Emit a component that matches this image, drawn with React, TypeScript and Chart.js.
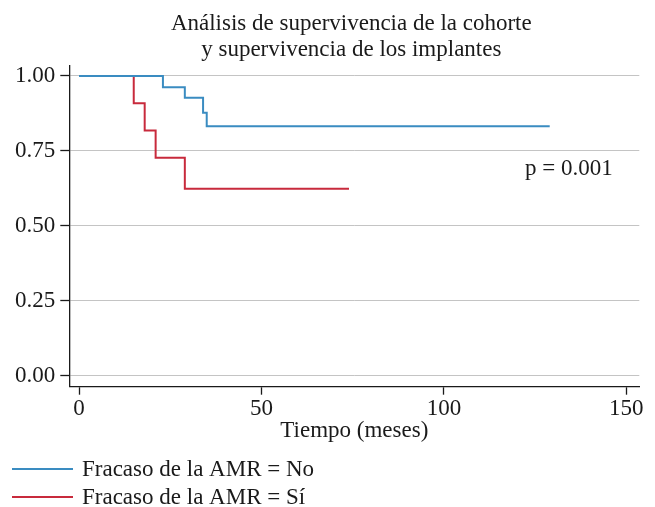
import React, { useEffect, useRef } from "react";
import { Chart, registerables } from "chart.js";

Chart.register(...registerables);

const titleLines = ["Análisis de supervivencia de la cohorte", "y supervivencia de los implantes"];
const xAxisTitle = "Tiempo (meses)";
const seriesLabels = ["Fracaso de la AMR = No", "Fracaso de la AMR = Sí"];
const noTimes = [0, 23, 29, 34, 35, 129];
const noSurvival = [1, 0.962, 0.927, 0.877, 0.832, 0.832];
const siTimes = [0, 15, 18, 21, 29, 74];
const siSurvival = [1, 0.909, 0.818, 0.727, 0.624, 0.624];
const xTicks = [0, 50, 100, 150];
const yTicks = [0, 0.25, 0.5, 0.75, 1];
const pValueText = "p = 0.001";

const FONT = "'Liberation Serif', 'Times New Roman', serif";
const TEXT = "#1a1a1a";
const AXIS = "#1a1a1a";
const BLUE = "#3a8cc1";
const RED = "#c82a3c";
const FS = 23;

const overlay = {
  id: "overlay",
  afterDraw(chart: any) {
    const ctx = chart.ctx;
    const { left, right } = chart.chartArea;
    ctx.save();
    ctx.fillStyle = TEXT;
    ctx.font = `${FS}px ${FONT}`;
    ctx.textAlign = "center";
    ctx.textBaseline = "alphabetic";
    const cx = (left + right) / 2 - 3;
    ctx.fillText(titleLines[0], cx, 30);
    ctx.fillText(titleLines[1], cx, 56);
    ctx.textAlign = "left";
    ctx.fillText(pValueText, 525, 175);
    chart.data.datasets.forEach((ds: any, i: number) => {
      const y = 469 + i * 28;
      ctx.strokeStyle = ds.borderColor;
      ctx.lineWidth = 2;
      ctx.beginPath();
      ctx.moveTo(12, y);
      ctx.lineTo(73, y);
      ctx.stroke();
      ctx.textBaseline = "middle";
      ctx.fillStyle = TEXT;
      ctx.fillText(ds.label, 82, y + 1);
    });
    ctx.restore();
  },
};

export default function App() {
  const ref = useRef<HTMLCanvasElement>(null);
  useEffect(() => {
    if (!ref.current) return;
    const font = { family: FONT, size: FS };
    const chart = new Chart(ref.current, {
      type: "line",
      data: {
        datasets: [
          {
            label: seriesLabels[0],
            data: noTimes.map((t, i) => ({ x: t, y: noSurvival[i] })),
            borderColor: BLUE,
            borderWidth: 2,
            pointRadius: 0,
            stepped: true,
            fill: false,
          },
          {
            label: seriesLabels[1],
            data: siTimes.map((t, i) => ({ x: t, y: siSurvival[i] })),
            borderColor: RED,
            borderWidth: 2,
            pointRadius: 0,
            stepped: true,
            fill: false,
          },
        ],
      },
      options: {
        animation: false,
        responsive: false,
        layout: { padding: { top: 66, right: 15.7, left: 0, bottom: 57 } },
        plugins: { legend: { display: false }, title: { display: false }, tooltip: { enabled: false } },
        scales: {
          x: {
            type: "linear",
            min: -2.66,
            max: 153.55,
            afterBuildTicks: (s: any) => {
              s.ticks = xTicks.map((v) => ({ value: v }));
            },
            afterFit: (s: any) => {
              s.height = 63.3;
            },
            grid: { drawOnChartArea: false, drawTicks: true, tickLength: 8, tickColor: AXIS, tickWidth: 1.3 },
            border: { display: true, color: AXIS, width: 1.3 },
            ticks: { font, color: TEXT, padding: 0, maxRotation: 0 },
            title: { display: true, text: xAxisTitle, font, color: TEXT, padding: { top: 0, bottom: 5 } },
          },
          y: {
            type: "linear",
            min: -0.0357,
            max: 1.033,
            afterBuildTicks: (s: any) => {
              s.ticks = yTicks.map((v) => ({ value: v }));
            },
            afterFit: (s: any) => {
              s.width = 69.3;
            },
            grid: { color: "#c4c4c4", lineWidth: 1, drawTicks: true, tickLength: 9, tickColor: AXIS, tickWidth: 1.3 },
            border: { display: true, color: AXIS, width: 1.3 },
            ticks: { font, color: TEXT, padding: 5, callback: (v: any) => Number(v).toFixed(2) },
          },
        },
      },
      plugins: [overlay],
    });
    return () => chart.destroy();
  }, []);
  return (
    <div style={{ position: "fixed", left: 0, top: 0, width: 655, height: 507, background: "#fff" }}>
      <canvas ref={ref} width={655} height={507} style={{ width: 655, height: 507, display: "block" }} />
    </div>
  );
}
